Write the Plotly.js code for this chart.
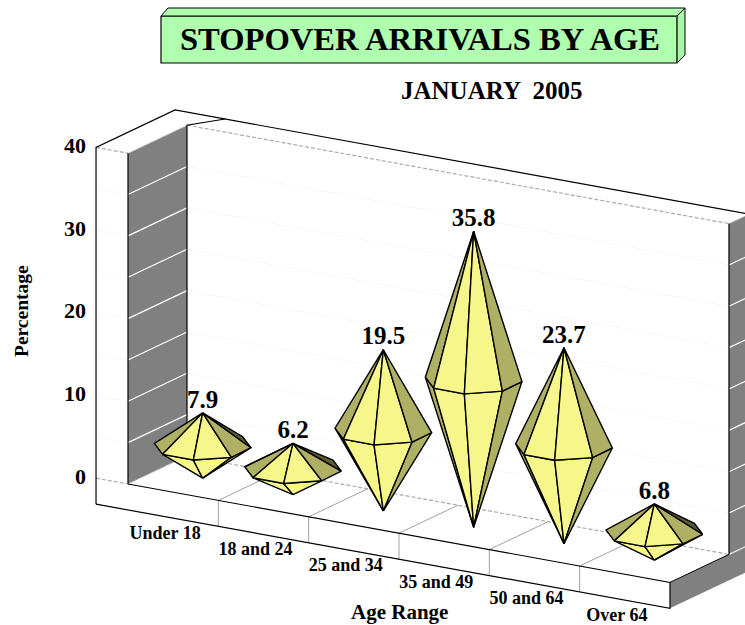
<!DOCTYPE html>
<html><head><meta charset="utf-8">
<script src="https://cdn.plot.ly/plotly-3.0.1.min.js"></script>
<style>html,body{margin:0;padding:0;background:#fff}</style></head>
<body><div id="chart" style="width:745px;height:625px"></div>
<script>
const ageGroups = ["Under 18","18 and 24","25 and 34","35 and 49","50 and 64","Over 64"];
const percentages = [7.9,6.2,19.5,35.8,23.7,6.8];
const valueTicks = [0,10,20,30,40];
const gridValues = [5,10,15,20,25,30,35];
const titleText = "STOPOVER ARRIVALS BY AGE";
const subtitleText = "JANUARY  2005";
const xTitle = "Age Range";
const yTitle = "Percentage";

// oblique projection: category position u, value v, depth d -> screen units
const PX = {x0:128,y0:484,ux:90.33,uy:16.4,dx:59,dy:-28,vy:-8.27};
const P = (u,v,d)=>[PX.x0+PX.ux*u+PX.dx*d, PX.y0+PX.uy*u+PX.dy*d+PX.vy*v];
const LEFT=-0.354, OUT=1.339, BASE=-3.14, TOP=40, N=ageGroups.length;
const BLACK='#000', GREY='#808080', DASH='#ababab', FLOOR='#a0a0a0', FAINT='#f8f8f8';
const LIGHT='#f6f68b', OLIVE='#b0b064', DARK='#5c5c30';
const FF='"Liberation Serif","Times New Roman",serif';

const traces=[];
function path(pts,o={}){
  const t={x:pts.map(p=>p[0]),y:pts.map(p=>p[1]),mode:(o.width===0)?'none':'lines',hoverinfo:'skip',showlegend:false,
    line:{color:o.color||BLACK,width:o.width===undefined?1.2:o.width,dash:o.dash||'solid'}};
  if(o.fill){t.fill='toself';t.fillcolor=o.fill;}
  traces.push(t);
}
function text(x,y,s,size,pos){
  traces.push({x:[x],y:[y],text:['<b>'+s+'</b>'],mode:'text',textposition:pos||'middle center',hoverinfo:'skip',showlegend:false,
    cliponaxis:false,textfont:{family:FF,size:size,color:'#000'}});
}

// title plate
path([[161,16],[677,16],[677,63],[161,63],[161,16]],{fill:'#b0ffb0',width:1.2});
path([[161,16],[168,8],[685,8],[677,16],[161,16]],{fill:'#b0ffb0',width:1});
path([[677,16],[685,8],[685,55],[677,63],[677,16]],{fill:'#a8f5a8',width:1});
path([[677,16],[677,63]],{color:'#3c5a3c',width:1.6});

// wall and base side panels
path([P(0,TOP,0),P(0,TOP,1),P(0,0,1),P(0,0,0),P(0,TOP,0)],{fill:GREY,width:0});
path([P(6,TOP,1),P(6,TOP,OUT),P(6,0,OUT),P(6,0,1),P(6,TOP,1)],{fill:GREY,width:0});
path([P(6,0,0),P(6,0,OUT),P(6,BASE,OUT),P(6,BASE,0),P(6,0,0)],{fill:GREY,width:0});

// grid lines
gridValues.forEach(v=>{
  path([P(LEFT,v,0),P(0,v,0)],{color:FAINT,width:1});
  path([P(0,v,1),P(6,v,1)],{color:FAINT,width:1});
  path([P(0,v,0),P(0,v,1)],{color:'#fff',width:1.2});
  path([P(6,v,1),P(6,v,OUT)],{color:'#fff',width:1.2});
});
path([P(0,TOP,0),P(0,TOP,1)],{color:'#d8d8d8',width:1.2,dash:'1px,1px'});
path([P(6,TOP,1),P(6,TOP,OUT)],{color:'#d8d8d8',width:1.2,dash:'1px,1px'});
path([P(6,0,1),P(6,0,OUT)],{color:'#e8e8e8',width:1.2});
path([P(0,0,0),P(0,0,1)],{color:'#d8d8d8',width:1.2,dash:'1px,1px'});

// dashed planes
path([P(LEFT,TOP,0),P(0,TOP,0)],{color:DASH,width:1.2,dash:'4px,2px'});
path([P(0,TOP,1),P(6,TOP,1)],{color:DASH,width:1.2,dash:'4px,2px'});
path([P(LEFT,0,0),P(0,0,0)],{color:DASH,width:1.2,dash:'4px,2px'});
path([P(0,0,1),P(6,0,1)],{color:DASH,width:1.2,dash:'4px,2px'});

// category separators
for(let i=1;i<N;i++){
  path([P(i,BASE,0),P(i,0,0),P(i,0,1)],{color:FLOOR,width:1});
}

// frame
path([P(LEFT,BASE,0),P(LEFT,TOP,0),P(LEFT,TOP,OUT),P(6,TOP,OUT)]);
path([P(LEFT,BASE,0),P(6,BASE,0),P(6,0,0),P(0,0,0)]);
path([P(6,0,0),P(6,0,1)],{width:1});
path([P(0,0,0),P(0,TOP,0)]);
path([P(0,0,1),P(0,TOP,1),P(0.2,TOP,OUT)],{});
path([P(6,0,1),P(6,TOP,1)]);

// diamonds: eight-sided double pyramids
const ring=[[-48.3,-2.2],[-40,8.8],[-9.3,14.5],[28.7,11.8],[48.3,2.2],[40,-8.8],[9.3,-14.5],[-28.7,-11.8]];
const faceColor=[OLIVE,LIGHT,LIGHT,OLIVE,DARK,DARK,OLIVE,OLIVE];
percentages.forEach((val,i)=>{
  const apex=P(i+0.5,val,0.5), foot=P(i+0.5,0,0.5), mid=P(i+0.5,val/2,0.5);
  const V=ring.map(r=>[mid[0]+r[0],mid[1]+r[1]]);
  const cross=(a,b,c)=>(b[0]-a[0])*(c[1]-a[1])-(b[1]-a[1])*(c[0]-a[0]);
  for(let k=0;k<8;k++){
    const a=V[k],b=V[(k+1)%8];
    if(cross(foot,a,b)>0) path([foot,a,b,foot],{fill:faceColor[k],width:1.4});
  }
  for(let k=0;k<8;k++){
    const a=V[k],b=V[(k+1)%8];
    if(cross(apex,a,b)<0) path([apex,a,b,apex],{fill:faceColor[k],width:1.4});
  }
  text(apex[0],apex[1]+1,val.toFixed(1),25,'top center');
});

// tick labels
valueTicks.forEach(v=>{
  const p=P(LEFT,v,0);
  traces.push({x:[p[0]-10],y:[p[1]],text:['<b>'+v+'</b>'],mode:'text',textposition:'middle left',hoverinfo:'skip',showlegend:false,
    textfont:{family:FF,size:22,color:'#000'}});
});
ageGroups.forEach((s,i)=>{
  const p=P(i+0.5,BASE,0);
  text(p[0]-8,p[1]+16,s,18);
});

const layout={
  width:745,height:625,margin:{l:0,r:0,t:0,b:0},paper_bgcolor:'#fff',plot_bgcolor:'#fff',showlegend:false,
  title:{text:'<b>'+titleText+'</b>',x:420/745,y:1-39/625,xanchor:'center',yanchor:'middle',font:{family:FF,size:32.6,color:'#000'}},
  xaxis:{range:[0,745],visible:false,fixedrange:true},
  yaxis:{range:[625,0],visible:false,fixedrange:true},
  annotations:[
    {x:492,y:90,xref:'x',yref:'y',text:'<b>'+subtitleText+'</b>',showarrow:false,font:{family:FF,size:25,color:'#000'}},
    {x:399,y:612,xref:'x',yref:'y',text:'<b>'+xTitle+'</b>',showarrow:false,font:{family:FF,size:21,color:'#000'}},
    {x:21,y:311,xref:'x',yref:'y',text:'<b>'+yTitle+'</b>',textangle:-90,showarrow:false,font:{family:FF,size:19.5,color:'#000'}}
  ]
};
Plotly.newPlot('chart',traces,layout,{displayModeBar:false,staticPlot:true});
</script></body></html>
